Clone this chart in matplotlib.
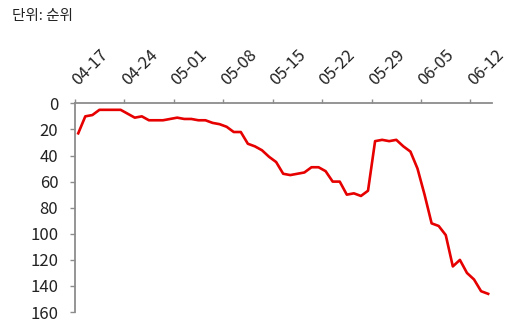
import matplotlib
matplotlib.use("Agg")
import matplotlib.pyplot as plt
import pandas as pd

plt.rcParams['font.family'] = ['Noto Sans CJK KR', 'DejaVu Sans']

# Daily ranking, 04-17 through 06-14
dates = pd.date_range("2024-04-17", "2024-06-14", freq="D")
rank = [23, 10, 9, 5, 5, 5, 5, 8, 11, 10, 13, 13, 13, 12, 11, 12, 12, 13, 13, 15,
        16, 18, 22, 22, 31, 33, 36, 41, 45, 54, 55, 54, 53, 49, 49, 52, 60, 60, 70, 69,
        71, 67, 29, 28, 29, 28, 33, 37, 50, 70, 92, 94, 101, 125, 120, 130, 135, 144, 146]
tick_labels = [d.strftime("%m-%d") for d in dates]
y_ticks = [0, 20, 40, 60, 80, 100, 120, 140, 160]
label_every = 7

gray = "#8c8c8c"
text_color = "#222222"
fig = plt.figure(figsize=(5.23, 3.21), dpi=100)
ax = fig.add_axes([74.7 / 523, 1 - 312.1 / 321, (491.7 - 74.7) / 523, (312.1 - 103.3) / 321])

x = list(range(len(rank)))
ax.plot(x, rank, color="#E60000", lw=1.9, solid_joinstyle="round")

ax.set_xlim(-0.5, len(rank) - 0.5)
ax.set_ylim(160, 0)
ax.set_yticks(y_ticks)
ax.set_yticklabels([str(v) for v in y_ticks])

# category boundaries carry the tick marks; labels sit at category centres
ax.xaxis.tick_top()
major = [i - 0.5 for i in range(0, len(rank), label_every)]
minor = list(range(0, len(rank), label_every))
ax.set_xticks(major)
ax.set_xticklabels([""] * len(major))
ax.set_xticks(minor, minor=True)
ax.set_xticklabels([tick_labels[i] for i in minor], minor=True)
ax.tick_params(axis="x", which="major", length=3, width=1, color=gray, direction="out")
ax.tick_params(axis="x", which="minor", length=0, pad=12.5, labelsize=12, labelcolor=text_color)
for lab in ax.get_xticklabels(minor=True):
    lab.set_rotation(45)
    lab.set_ha("left")
    lab.set_va("baseline")
    lab.set_rotation_mode("anchor")

ax.tick_params(axis="y", length=3.3, width=1, color=gray, direction="out", pad=8.5,
               labelsize=12, labelcolor=text_color)

for side in ("right", "bottom"):
    ax.spines[side].set_visible(False)
for side in ("left", "top"):
    ax.spines[side].set_color(gray)
    ax.spines[side].set_linewidth(1.3)

fig.text(12 / 523, 1 - 9 / 321, "단위: 순위", ha="left", va="top", fontsize=10.5, color=text_color)

fig.savefig("out.png", dpi=100)
